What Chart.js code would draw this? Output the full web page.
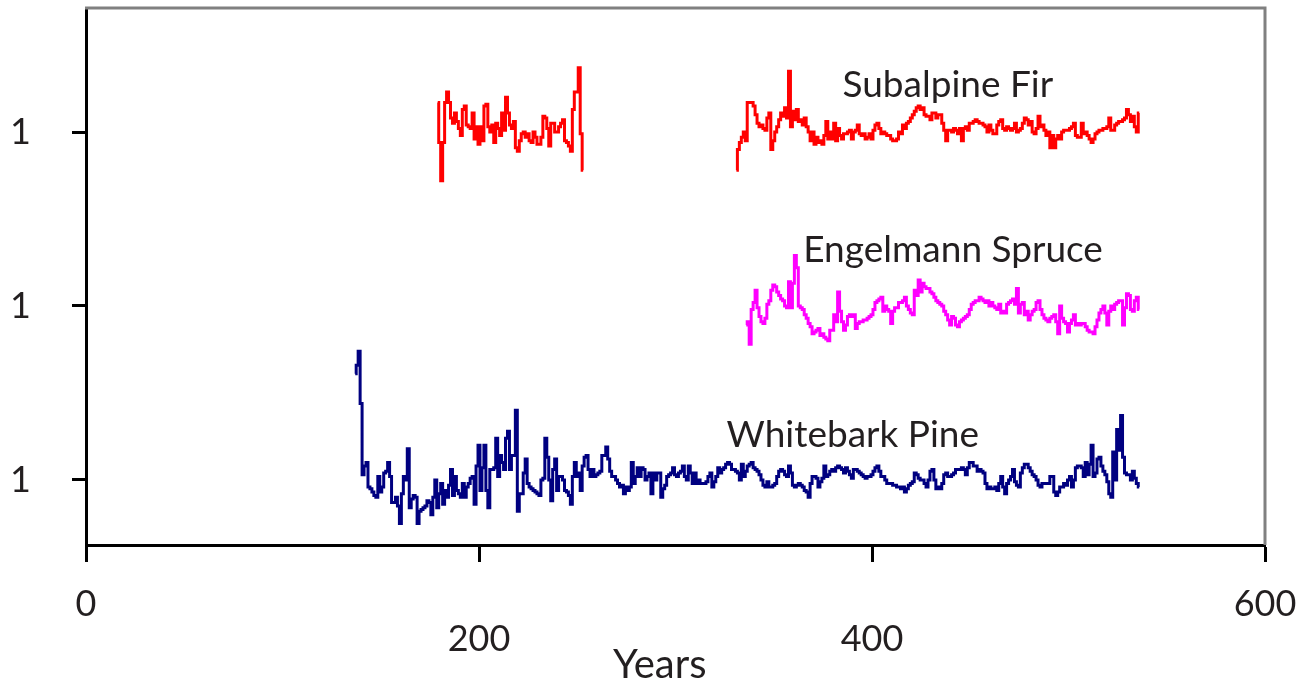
<!DOCTYPE html>
<html>
<head>
<meta charset="utf-8">
<script src="https://cdn.jsdelivr.net/npm/chart.js@4.4.1/dist/chart.umd.min.js"></script>
<style>
  html, body { margin: 0; padding: 0; background: #fff; }
</style>
</head>
<body>
<canvas id="treeChart" width="1304" height="682"></canvas>
<script>
// tick values
const xTicks = [0, 200, 400, 600];
const xTicksLow = [200, 400];   // labels drawn one line lower
const yTicks = [1, 2, 3];

// ring-width index, one value per year
const whitebarkStart = 137;
const whitebark = [
  1.61,1.66,1.74,1.44,1.03,1.08,1.10,0.96,0.95,0.93,
  0.91,0.90,1.02,0.93,0.96,1.04,1.05,1.10,1.02,0.87,
  0.87,0.90,0.85,0.75,0.92,1.02,1.00,1.18,0.84,0.89,
  0.91,0.90,0.75,0.82,0.83,0.84,0.85,0.88,0.87,0.80,
  0.90,1.00,0.84,0.92,0.98,0.86,0.94,0.90,0.97,1.06,
  0.91,1.02,0.94,0.92,0.90,0.98,0.90,0.96,0.98,1.01,
  1.02,0.86,1.08,1.20,0.94,1.07,1.20,0.94,0.84,1.06,
  1.06,1.07,1.24,1.02,1.14,1.10,1.06,1.24,1.28,1.06,
  1.14,1.14,1.40,0.82,0.92,0.92,1.04,1.12,0.98,0.96,
  0.95,0.94,0.93,0.92,0.91,1.00,1.01,1.24,1.13,1.00,
  0.88,1.06,1.12,0.94,1.02,1.02,1.00,0.94,0.93,0.91,
  0.86,1.02,1.10,1.02,1.04,0.94,1.08,1.13,1.14,1.06,
  1.02,1.06,1.02,1.03,1.04,1.05,1.14,1.14,1.19,1.12,
  1.05,1.02,1.02,1.00,0.98,0.96,0.97,0.92,0.96,0.94,
  0.96,1.10,0.98,1.02,1.07,1.02,1.07,1.06,1.00,1.02,
  1.04,0.92,1.04,1.00,1.04,1.04,0.90,0.95,0.97,1.02,
  1.03,1.04,1.07,1.03,1.02,1.04,1.05,1.08,1.02,1.00,
  1.08,1.04,0.98,1.04,0.98,1.00,0.98,0.98,0.98,0.99,
  1.02,1.04,0.96,0.99,1.02,1.07,1.04,1.06,1.07,1.09,
  1.10,1.09,1.06,1.06,1.05,1.04,1.00,1.09,1.02,1.05,
  1.08,1.09,1.10,1.07,1.06,1.05,1.03,1.00,0.97,0.96,
  0.99,0.96,0.96,0.97,0.98,1.02,1.05,1.06,1.05,1.03,
  1.02,1.08,1.04,0.97,0.96,0.97,0.98,0.97,0.96,0.94,
  0.93,0.90,0.98,1.02,1.02,1.01,0.96,0.99,1.01,1.08,
  1.02,1.03,1.05,1.06,1.05,1.07,1.08,1.07,1.06,1.04,
  1.07,1.05,1.03,1.01,1.06,1.06,1.05,1.04,1.03,1.02,
  1.01,1.02,1.02,1.03,1.05,1.07,1.08,1.05,1.02,1.02,
  1.00,0.98,0.98,0.98,0.97,0.97,0.96,0.96,0.95,0.96,
  0.93,0.95,0.97,0.98,0.99,1.04,1.03,1.01,1.00,1.00,
  0.98,0.96,1.00,1.05,1.06,1.00,0.95,0.96,0.95,0.98,
  1.03,1.04,1.02,1.02,1.03,1.04,1.06,1.06,1.06,1.07,
  1.06,1.03,1.07,1.10,1.10,1.08,1.08,1.05,1.06,1.05,
  1.04,0.98,0.95,0.96,0.95,0.95,0.96,0.94,0.98,1.02,
  0.96,0.92,0.98,1.00,1.02,1.06,0.99,0.97,0.96,1.04,
  1.07,1.09,1.09,1.07,1.05,1.03,1.02,1.00,0.97,0.96,
  0.98,0.98,0.98,0.98,1.02,1.02,0.93,0.91,0.93,0.96,
  0.96,0.98,0.97,1.00,1.02,0.96,1.00,1.07,1.08,1.08,
  1.07,1.02,1.10,1.03,1.09,1.20,1.02,1.04,1.12,1.13,
  1.08,1.05,1.03,0.99,0.92,0.90,1.16,1.00,1.29,1.17,
  1.37,1.13,1.04,1.03,1.03,1.00,1.05,1.01,0.98,0.96
];

const engelmannStart = 336;
const engelmann = [
  0.89,0.91,0.78,0.98,1.02,1.09,0.99,0.94,0.91,0.90,
  0.93,1.01,1.03,1.09,1.12,1.11,1.08,1.06,1.04,1.03,
  1.00,0.99,1.14,0.99,1.13,1.29,1.22,1.00,0.99,0.98,
  0.95,0.93,0.90,0.88,0.84,0.85,0.86,0.87,0.83,0.84,
  0.82,0.81,0.80,0.86,0.86,0.95,0.91,1.08,0.97,0.91,
  0.86,0.89,0.94,0.95,0.94,0.95,0.87,0.90,0.91,0.91,
  0.92,0.92,0.93,0.94,0.95,0.98,1.02,1.03,1.04,1.05,
  0.97,1.00,0.98,0.97,0.90,0.97,0.99,0.99,1.02,1.02,
  1.03,1.05,1.00,0.98,0.96,0.95,1.09,1.06,1.15,1.08,
  1.13,1.11,1.10,1.10,1.08,1.07,1.05,1.03,1.02,1.01,
  1.00,0.97,0.95,0.92,0.89,0.94,0.93,0.89,0.88,0.91,
  0.92,0.93,0.94,0.95,0.98,1.01,1.02,1.03,1.03,1.05,
  1.04,1.03,1.02,1.03,1.00,1.02,1.00,0.99,0.98,1.01,
  0.96,0.97,0.96,1.01,1.02,1.03,1.04,1.01,1.10,0.96,
  1.01,1.02,0.95,0.97,0.92,0.95,0.97,0.98,1.02,1.03,
  0.98,0.95,0.93,0.92,0.91,0.93,0.94,0.95,0.91,0.84,
  1.00,0.93,0.91,0.90,0.85,0.90,0.92,0.95,0.89,0.90,
  0.89,0.90,0.90,0.88,0.86,0.85,0.85,0.84,0.88,0.92,
  0.96,0.98,1.00,0.96,0.89,0.97,1.00,0.98,1.01,1.02,
  1.03,1.03,0.89,0.99,1.07,1.06,0.98,0.97,1.03,1.05,
  0.98
];

// subalpine fir has a gap between the two sampled periods
const firEarlyStart = 179;
const firEarly = [
  1.17,0.94,0.72,0.94,1.17,1.23,1.17,1.08,1.05,1.11,
  1.06,1.02,0.98,1.13,1.15,1.04,1.03,1.02,1.11,0.96,
  1.03,0.93,1.03,0.95,1.15,1.16,1.03,1.00,1.04,0.94,
  1.05,1.02,0.98,1.11,1.01,1.20,1.11,1.04,1.02,1.06,
  0.91,0.89,0.95,0.99,1.00,0.97,0.99,0.95,0.94,1.00,
  0.97,0.93,0.93,0.97,1.09,1.08,1.02,0.92,1.05,1.05,
  1.00,1.00,1.03,1.05,1.07,0.95,0.94,0.92,0.89,1.13,
  1.23,1.23,1.37,0.99,0.78
];
const firLateStart = 331;
const firLate = [
  0.78,0.90,0.94,0.97,1.00,0.95,1.17,1.17,1.17,1.15,
  1.10,1.05,1.03,1.04,1.02,1.01,1.08,1.11,0.90,0.95,
  1.00,1.03,1.07,1.11,1.09,1.14,1.08,1.35,1.03,1.12,
  1.07,1.13,1.06,1.07,1.04,1.08,1.03,1.00,0.95,1.00,
  0.93,0.97,0.94,0.95,0.93,0.98,1.06,0.96,1.00,0.96,
  1.05,0.95,1.02,0.98,0.96,0.99,0.99,1.00,1.01,0.96,
  1.00,1.01,1.04,0.99,0.98,0.99,0.96,0.97,0.99,0.96,
  1.01,1.04,1.05,1.02,0.99,1.00,0.99,0.98,0.98,0.96,
  0.95,0.95,0.96,1.00,0.99,1.04,1.02,1.05,1.06,1.08,
  1.10,1.12,1.14,1.15,1.13,1.14,1.10,1.09,1.09,1.07,
  1.11,1.11,1.08,1.10,1.10,1.05,1.01,0.95,1.01,1.01,
  1.00,1.02,1.01,0.99,1.02,0.95,1.02,1.03,1.01,1.05,
  1.05,1.06,1.07,1.06,1.05,1.05,1.04,1.03,1.00,1.04,
  1.01,0.99,0.99,1.04,1.06,1.07,1.02,1.01,1.03,1.02,
  1.01,1.02,1.05,1.00,1.01,1.02,1.05,1.08,1.07,1.04,
  1.06,1.00,0.99,1.02,1.09,1.03,1.04,1.01,0.98,1.00,
  0.91,0.98,0.91,0.96,0.98,0.96,1.00,1.01,1.01,1.01,
  1.02,1.03,1.05,0.98,0.97,0.97,1.05,0.99,1.00,0.98,
  0.96,0.94,0.96,0.99,1.00,1.01,1.01,1.02,1.02,1.03,
  1.08,1.01,1.01,1.04,1.05,1.06,1.06,1.07,1.08,1.13,
  1.10,1.06,1.09,1.03,1.00,1.11
];

// each series is lifted by a whole index unit so the three sit stacked
const offsets = { whitebark: 0, engelmann: 1, fir: 2 };

// series names written next to the curves (x in years, y in lifted index units)
const seriesLabels = [
  { text: 'Subalpine Fir', x: 385, y: 3.20 },
  { text: 'Engelmann Spruce', x: 365, y: 2.25 },
  { text: 'Whitebark Pine', x: 326, y: 1.19 }
];
const xTitle = { text: 'Years', x: 292 };

const FONT = 'Lato, "Open Sans", sans-serif';
const TEXT = '#231f20';

function toPoints(start, values, offset) {
  return values.map((v, i) => ({ x: start + i, y: v + offset }));
}

const firData = toPoints(firEarlyStart, firEarly, offsets.fir)
  .concat([{ x: 292, y: null }])
  .concat(toPoints(firLateStart, firLate, offsets.fir));

const decor = {
  id: 'decor',
  afterDraw(chart) {
    const { ctx, chartArea: a, scales } = chart;
    ctx.save();
    // grey frame on top and right
    ctx.strokeStyle = '#808080';
    ctx.lineWidth = 3;
    ctx.beginPath();
    ctx.moveTo(a.left - 1, a.top);
    ctx.lineTo(a.right, a.top);
    ctx.lineTo(a.right, a.bottom);
    ctx.stroke();

    ctx.fillStyle = TEXT;
    ctx.font = '37px ' + FONT;
    ctx.textBaseline = 'alphabetic';
    ctx.textAlign = 'left';
    seriesLabels.forEach(l => {
      ctx.fillText(l.text, scales.x.getPixelForValue(l.x), scales.y.getPixelForValue(l.y));
    });
    ctx.font = '40px ' + FONT;
    ctx.textAlign = 'center';
    ctx.fillText(xTitle.text, scales.x.getPixelForValue(xTitle.x), a.bottom + 133);
    ctx.restore();
  }
};

const ctx = document.getElementById('treeChart').getContext('2d');
const treeChart = new Chart(ctx, {
  type: 'line',
  data: {
    datasets: [
      {
        label: 'Subalpine Fir',
        data: firData,
        borderColor: '#ff0000'
      },
      {
        label: 'Engelmann Spruce',
        data: toPoints(engelmannStart, engelmann, offsets.engelmann),
        borderColor: '#ff00ff'
      },
      {
        label: 'Whitebark Pine',
        data: toPoints(whitebarkStart, whitebark, offsets.whitebark),
        borderColor: '#000080'
      }
    ]
  },
  options: {
    responsive: false,
    animation: false,
    devicePixelRatio: 1,
    layout: { padding: { top: 8, right: 39, left: 0, bottom: 0 } },
    datasets: {
      line: {
        borderWidth: 3,
        pointRadius: 0,
        stepped: 'middle',
        fill: false,
        spanGaps: false,
        borderCapStyle: 'butt',
        borderJoinStyle: 'miter'
      }
    },
    plugins: {
      legend: { display: false },
      tooltip: { enabled: false }
    },
    scales: {
      x: {
        type: 'linear',
        min: 0,
        max: 600,
        afterBuildTicks: s => { s.ticks = xTicks.map(v => ({ value: v })); },
        afterFit: s => { s.height = 137; s.paddingLeft = 0; s.paddingRight = 0; },
        ticks: {
          autoSkip: false,
          maxRotation: 0,
          padding: 25,
          color: TEXT,
          font: { family: FONT, size: 36, lineHeight: 35 / 36 },
          callback: v => xTicksLow.includes(v) ? ['', String(v)] : String(v)
        },
        grid: { drawOnChartArea: false, tickLength: 17, tickWidth: 3, tickColor: '#000' },
        border: { color: '#000', width: 3 }
      },
      y: {
        type: 'linear',
        min: 0.626,
        max: 3.713,
        afterBuildTicks: s => { s.ticks = yTicks.map(v => ({ value: v })); },
        afterFit: s => { s.width = 86; s.paddingTop = 0; s.paddingBottom = 0; },
        ticks: {
          padding: 41,
          color: TEXT,
          font: { family: FONT, size: 36 },
          callback: () => '1'
        },
        grid: { drawOnChartArea: false, tickLength: 14, tickWidth: 3, tickColor: '#000' },
        border: { color: '#000', width: 3 }
      }
    }
  },
  plugins: [decor]
});
</script>
</body>
</html>
